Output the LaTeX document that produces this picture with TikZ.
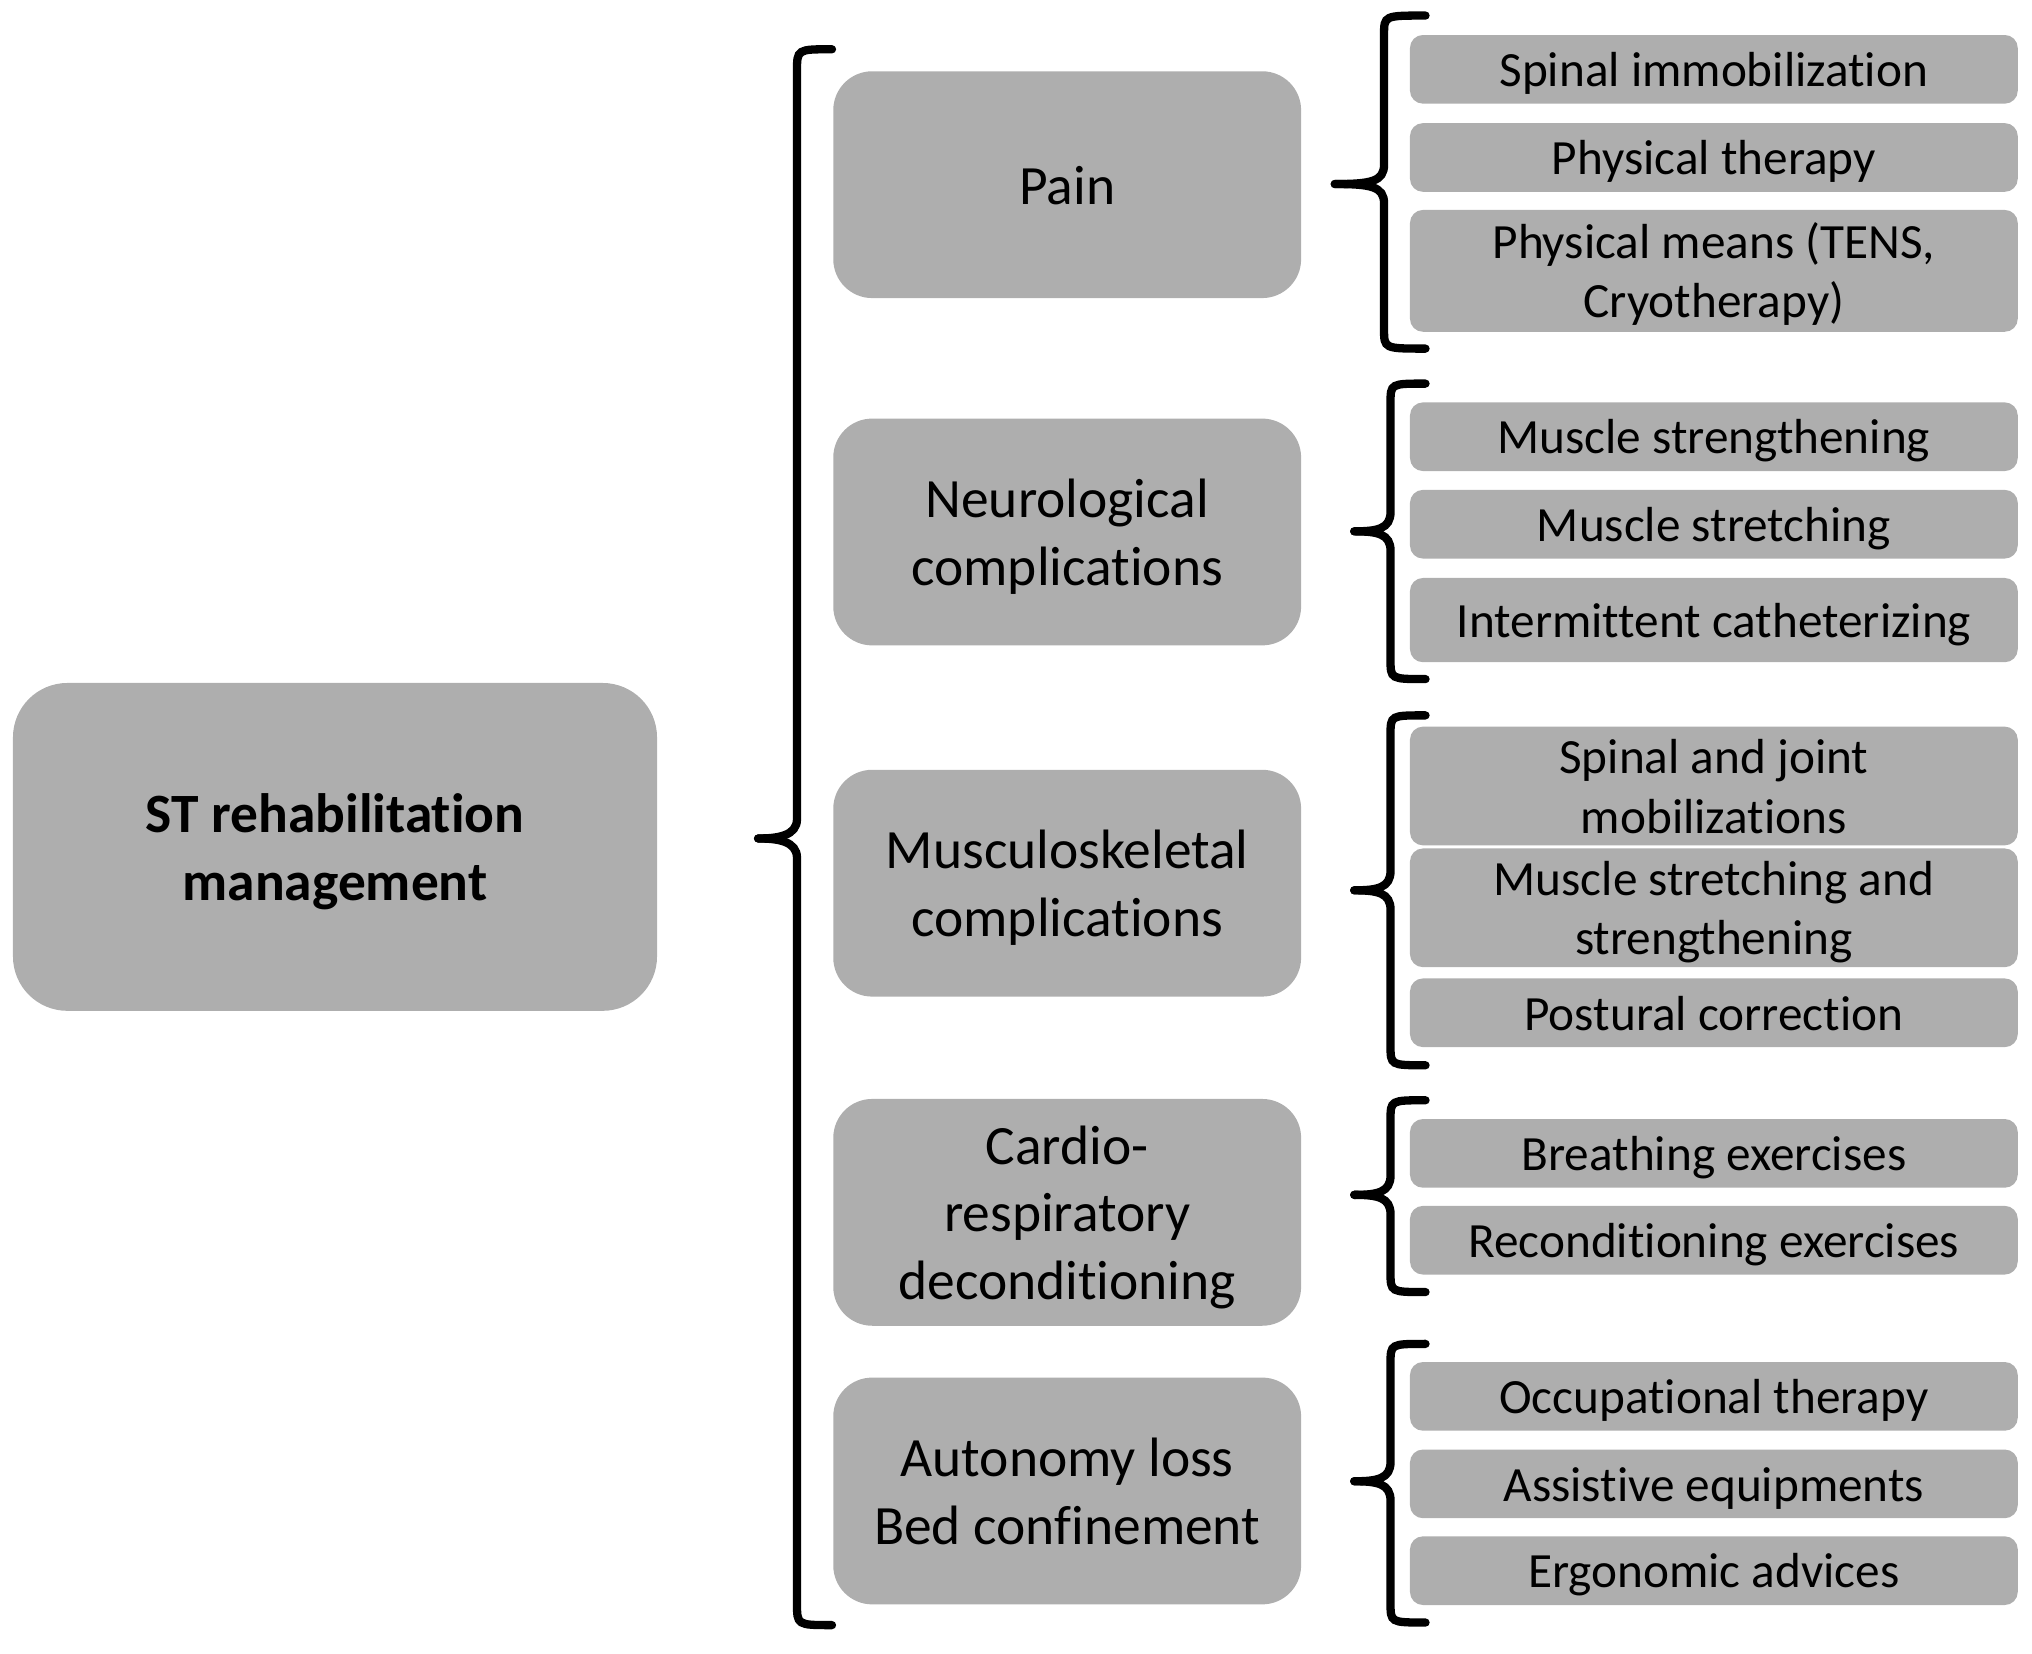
\documentclass[tikz,border=0pt]{standalone}
\usepackage{fontspec}
\setmainfont[Ligatures=NoCommon]{Carlito}
\definecolor{boxgray}{RGB}{174,174,174}
\newcommand{\topline}{\rule{0pt}{0.95em}}

\begin{document}
\begin{tikzpicture}[x=0.5pt,y=-0.5pt,
  box/.style={fill=boxgray,draw=none,inner sep=0pt,align=center,
    execute at begin node={\rule[-0.25em]{0pt}{1.2em}}},
  mainbox/.style={box,rounded corners=21pt,minimum width=248.5pt,minimum height=126.5pt,font=\fontsize{21.4}{26}\selectfont\bfseries},
  midbox/.style={box,rounded corners=15pt,minimum width=180.5pt,minimum height=87.5pt,font=\fontsize{21.4}{26}\selectfont},
  subbox/.style={box,rounded corners=5pt,minimum width=234.5pt,minimum height=26.5pt,font=\fontsize{19}{23}\selectfont},
  brace/.style={line width=3.2pt,line cap=round}]
\useasboundingbox (0,0) rectangle (1568,1276);

\node[mainbox] (st) at (258.5,653.5) {\topline ST rehabilitation\\management};

\node[midbox] (pain) at (823.5,142.5) {Pain};
\node[midbox] (neuro) at (823.5,410.5) {\topline Neurological\\complications};
\node[midbox] (musc) at (823.5,681.5) {\topline Musculoskeletal\\complications};
\node[midbox] (cardio) at (823.5,935.5) {\topline Cardio-\\respiratory\\deconditioning};
\node[midbox] (auto) at (823.5,1150.5) {\topline Autonomy loss\\Bed confinement};

% pain
\node[subbox] (immob) at (1322.5,53.5) {Spinal immobilization};
\node[subbox] (phys) at (1322.5,121.5) {Physical therapy};
\node[subbox,minimum height=47pt] (means) at (1322.5,209) {\topline Physical means (TENS,\\Cryotherapy)};
% neurological
\node[subbox] (streng) at (1322.5,337) {Muscle strengthening};
\node[subbox] (stretch) at (1322.5,404.5) {Muscle stretching};
\node[subbox,minimum height=32.5pt] (cath) at (1322.5,478.5) {Intermittent catheterizing};
% musculoskeletal
\node[subbox,minimum height=40.5pt] (joint) at (1322.5,606.5) {\topline Spinal and joint\\mobilizations};
\node[subbox,minimum height=40.5pt] (stretstr) at (1322.5,700.5) {\topline Muscle stretching and\\strengthening};
\node[subbox] (post) at (1322.5,781.5) {Postural correction};
% cardio
\node[subbox] (breath) at (1322.5,890) {Breathing exercises};
\node[subbox] (recond) at (1322.5,957) {Reconditioning exercises};
% autonomy
\node[subbox] (occup) at (1322.5,1077.5) {Occupational therapy};
\node[subbox] (assist) at (1322.5,1145) {Assistive equipments};
\node[subbox] (ergo) at (1322.5,1212) {Ergonomic advices};

% braces
\draw[brace] (642,38) .. controls (615,38) .. (615,55) -- (615,632)
  .. controls (615,645) and (600,647) .. (585,647);
\draw[brace] (585,647) .. controls (600,647) and (615,649) .. (615,662)
  -- (615,1237) .. controls (615,1254) .. (642,1254);
\foreach \v/\t/\a/\m/\b in {1068/1030/12/142/269, 1073/1045/296/410/524,
  1073/1045/552/687/822, 1073/1045/849/922/997, 1073/1045/1037/1143/1252}{
  \draw[brace] (1100,\a) .. controls (\v,\a) .. (\v,\a+15) -- (\v,\m-15)
    .. controls (\v,\m-2) and (\v-10,\m) .. (\t,\m);
  \draw[brace] (\t,\m) .. controls (\v-10,\m) and (\v,\m+2) .. (\v,\m+15)
    -- (\v,\b-15) .. controls (\v,\b) .. (1100,\b);
}
\end{tikzpicture}
\end{document}
